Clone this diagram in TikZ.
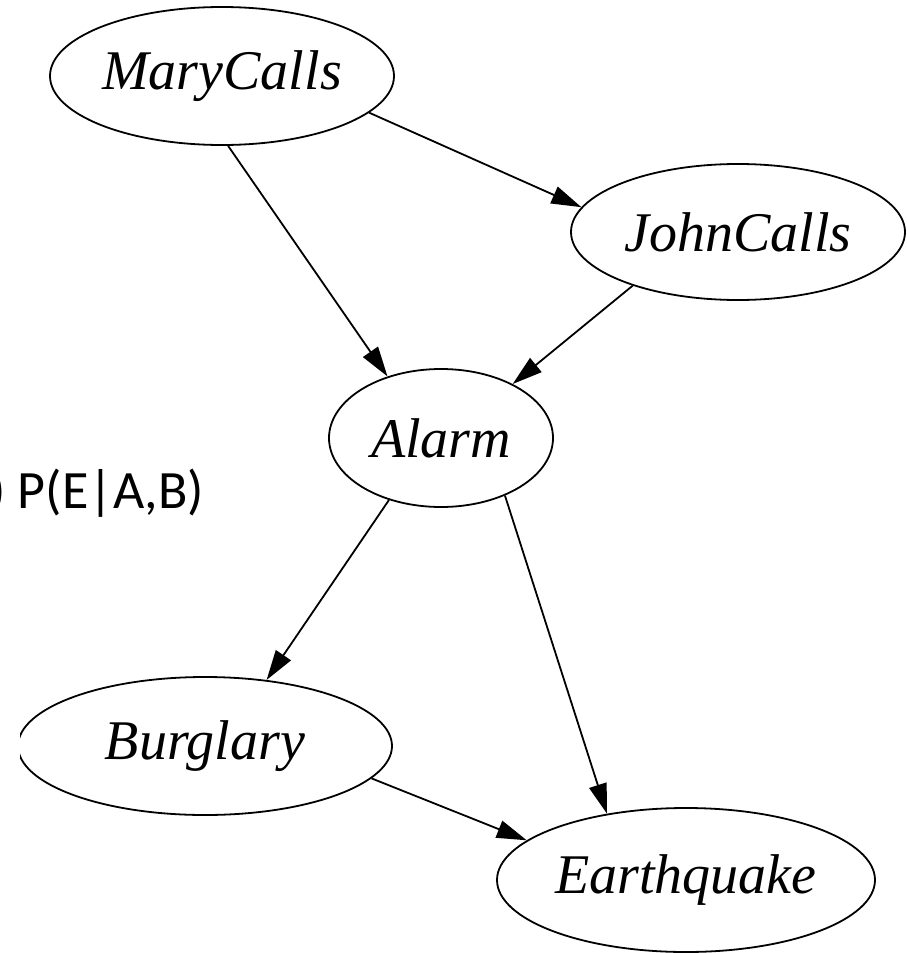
\documentclass[tikz,border=0pt]{standalone}
\usepackage{fontspec}
\setmainfont{Liberation Serif}
\newfontfamily\calib{Carlito}
\usetikzlibrary{shapes.geometric,arrows.meta}
\begin{document}
\begin{tikzpicture}[x=1pt,y=-1pt,
  var/.style={ellipse, draw, line width=1.8pt, inner sep=0pt,
    font=\fontsize{56}{60}\selectfont\itshape},
  dep/.style={-{Triangle[length=30pt,width=18pt]}, line width=1.8pt},
]
\useasboundingbox (0,0) rectangle (906,953);

% variables of the network
\node[var, minimum width=344pt, minimum height=138pt] (mary)  at (222,76)  {MaryCalls};
\node[var, minimum width=334pt, minimum height=136pt] (john)  at (738,232) {JohnCalls};
\node[var, minimum width=224pt, minimum height=138pt] (alarm) at (441,438) {Alarm};
\begin{scope}
  \clip (20,600) rectangle (500,900);
  \node[var, minimum width=374pt, minimum height=138pt] (burglary) at (205,746) {Burglary};
\end{scope}
\node[var, minimum width=378pt, minimum height=144pt] (quake) at (686,880) {Earthquake};

% factor label
\node[anchor=base west, inner sep=0pt, font=\calib\fontsize{54}{60}\selectfont]
  (cpt) at (-11,508) {) P(E|A,B)};

% dependencies
\draw[dep] (mary.-14)    -- (john.171);
\draw[dep] (mary.-85)    -- (alarm.131);
\draw[dep] (john.207)    -- (alarm.37);
\draw[dep] (alarm.230)   -- (burglary.47);
\draw[dep] (alarm.-42)   -- (quake.140);
\draw[dep] (burglary.-11) -- (quake.166);
\end{tikzpicture}
\end{document}
